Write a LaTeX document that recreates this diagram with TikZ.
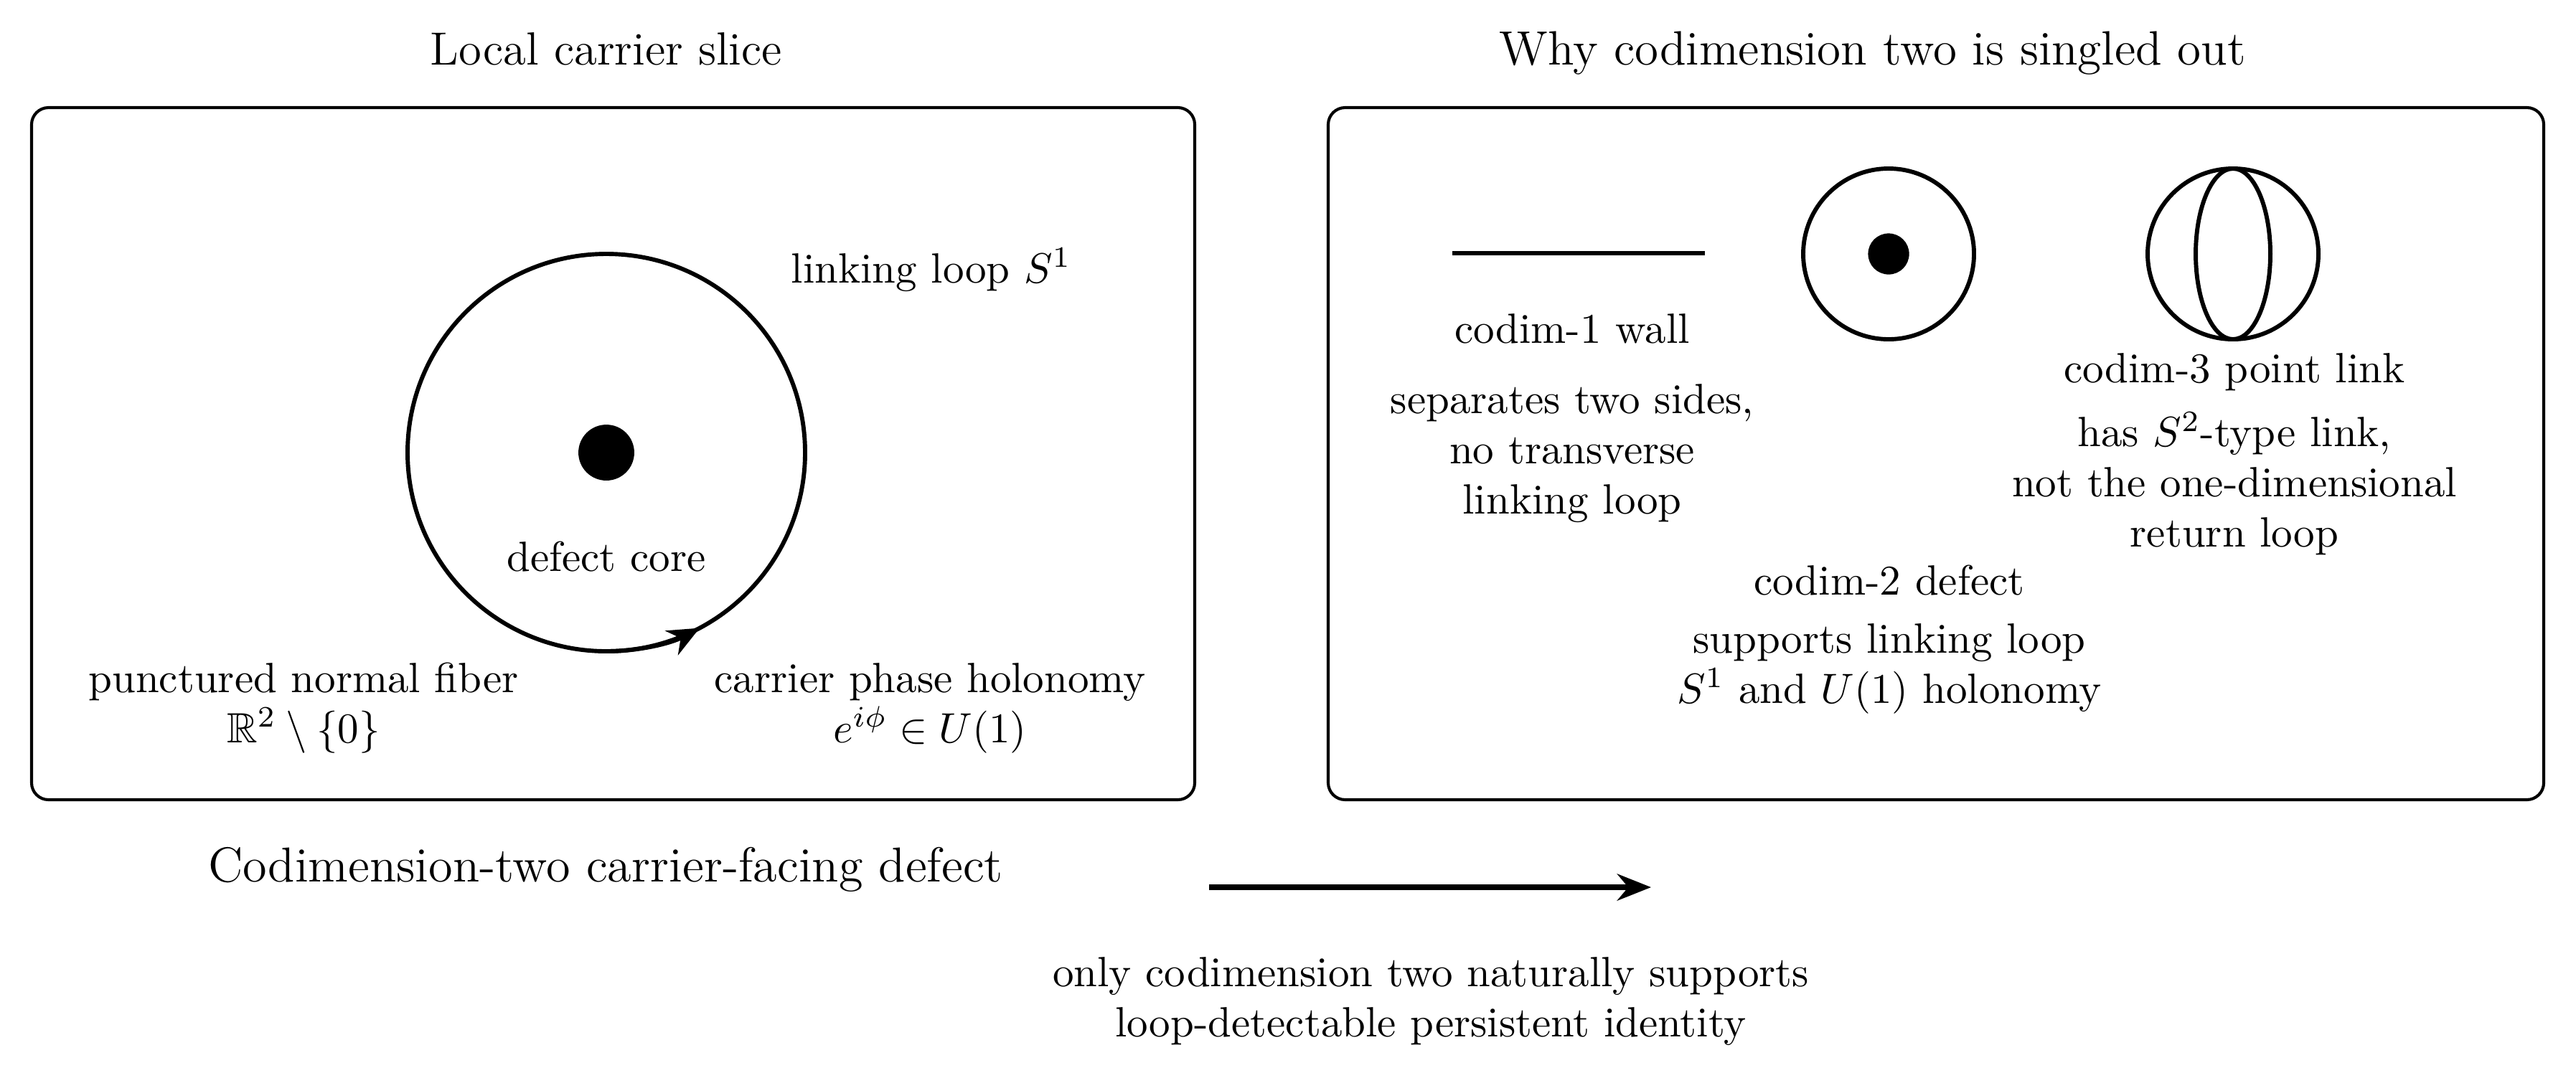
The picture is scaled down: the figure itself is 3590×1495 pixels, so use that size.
\documentclass[tikz,border=0pt]{standalone}
\usepackage{amsmath,amssymb}
\usetikzlibrary{arrows.meta}
\begin{document}
\begin{tikzpicture}[x=0.1695pt,y=-0.1695pt,
  lbl/.style={font=\fontsize{10}{11.8}\selectfont, align=center, inner sep=0pt},
  ttl/.style={font=\fontsize{11}{13}\selectfont, inner sep=0pt},
  panel/.style={draw, line width=0.7pt, rounded corners=4pt},
  loopline/.style={line width=1pt},
  coredot/.style={circle, fill=black, inner sep=0pt}]
\useasboundingbox (0,0) rectangle (3590,1495);
% titles
\node[ttl, anchor=base] (t1) at (845,90) {Local carrier slice};
\node[ttl, anchor=base, font=\fontsize{11.4}{13}\selectfont] (t2) at (2610,90) {Why codimension two is singled out};
% panels
\draw[panel] (44,150) rectangle (1665,1115);
\draw[panel] (1851,150) rectangle (3545,1115);
% left panel
\coordinate (c0) at (845,631);
\draw[loopline] (c0) circle[radius=277];
\node[coredot, minimum size=13.2pt] (core) at (c0) {};
\draw[loopline, -{Stealth[length=7.5pt,width=6.5pt]}] (c0) ++(90:277) arc[start angle=90, end angle=62, radius=277];
\node[lbl, anchor=base] (ll) at (1298,394) {linking loop $S^1$};
\node[lbl, anchor=base] (dc) at (845,796) {defect core};
% multi-line nodes: base anchor = baseline of last line
\node[lbl, anchor=base] (pn) at (423,1035) {punctured normal fiber\\ $\mathbb{R}^2\setminus\{0\}$};
\node[lbl, anchor=base] (cp) at (1296,1035) {carrier phase holonomy\\ $e^{i\phi}\in U(1)$};
% right panel
\coordinate (w1) at (2024,353);
\coordinate (w2) at (2376,353);
\draw[line width=1pt] (w1) -- (w2);
\coordinate (c2) at (2632,354);
\draw[loopline] (c2) circle[radius=119];
\node[coredot, minimum size=9.7pt] (d2) at (c2) {};
\coordinate (c3) at (3112,354);
\draw[loopline] (c3) circle[radius=119];
\draw[loopline] (c3) ellipse[x radius=52, y radius=119];
\node[lbl, anchor=base] (l1) at (2191,478) {codim-1 wall};
\node[lbl, anchor=base] (l1b) at (2191,716) {separates two sides,\\ no transverse\\ linking loop};
\node[lbl, anchor=base] (l3) at (3114,533) {codim-3 point link};
\node[lbl, anchor=base] (l3b) at (3114,762) {has $S^2$-type link,\\ not the one-dimensional\\ return loop};
\node[lbl, anchor=base] (l2) at (2633,829) {codim-2 defect};
\node[lbl, anchor=base] (l2b) at (2633,980) {supports linking loop\\ $S^1$ and $U(1)$ holonomy};
% bottom
\node[ttl, anchor=base, font=\fontsize{11.6}{13}\selectfont] (bl) at (844,1229) {Codimension-two carrier-facing defect};
\coordinate (a1) at (1685,1237);
\coordinate (a2) at (2301,1237);
\draw[line width=1.2pt, -{Stealth[length=8pt,width=6.3pt]}] (a1) -- (a2);
\node[lbl, anchor=base] (cap) at (1994,1445) {only codimension two naturally supports\\ loop-detectable persistent identity};
\end{tikzpicture}
\end{document}
